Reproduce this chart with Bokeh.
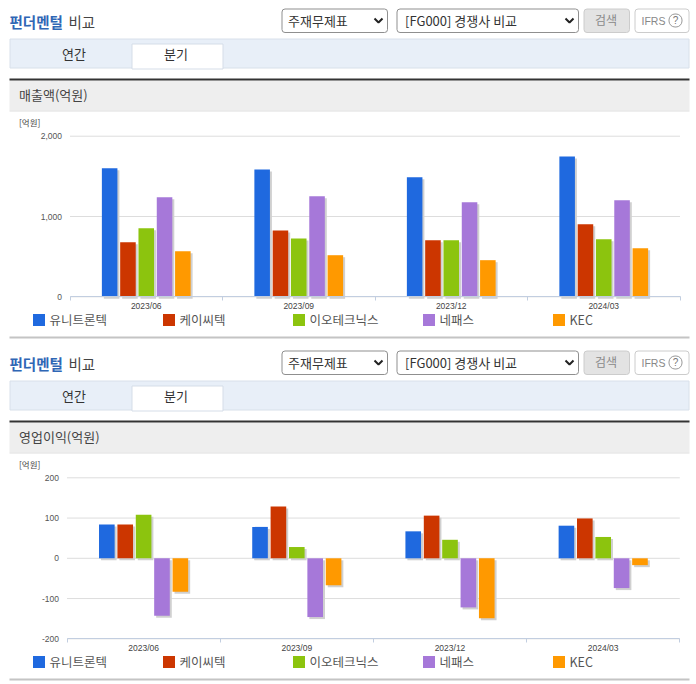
from bokeh.embed import file_html
from bokeh.resources import INLINE
from bokeh.plotting import figure
from bokeh.core.properties import value
from bokeh.models import (ColumnDataSource, Legend, LegendItem, FixedTicker, LinearAxis, Range1d, Dodge)

periods = ["2023/06", "2023/09", "2023/12", "2024/03"]
companies = ["유니트론텍", "케이씨텍", "이오테크닉스", "네패스", "KEC"]
colors = ["#1f69df", "#cc3600", "#8cc40e", "#a678d9", "#ff9900"]

revenue_unitrontech = [1600, 1585, 1490, 1747]
revenue_kctech = [680, 826, 705, 904]
revenue_eo = [854, 726, 705, 717]
revenue_nepes = [1240, 1253, 1178, 1203]
revenue_kec = [568, 518, 456, 605]

profit_unitrontech = [84, 78, 67, 81]
profit_kctech = [84, 129, 106, 99]
profit_eo = [108, 28, 46, 53]
profit_nepes = [-143, -146, -122, -74]
profit_kec = [-83, -67, -149, -17]

revenue = [revenue_unitrontech, revenue_kctech, revenue_eo, revenue_nepes, revenue_kec]
profit = [profit_unitrontech, profit_kctech, profit_eo, profit_nepes, profit_kec]

rev_ticks = [0, 1000, 2000]
rev_labels = {0: "0", 1000: "1,000", 2000: "2,000"}
pro_ticks = [-200, -100, 0, 100, 200]
pro_labels = {-200: "-200", -100: "-100", 0: "0", 100: "100", 200: "200"}

KR = "Noto Sans CJK KR"
LAT = "Liberation Sans"
W, H = 690, 681
OX, OY = 0, 0  # page-to-figure offset

p = figure(width=W, height=H, output_backend="svg", toolbar_location=None,
           x_range=Range1d(OX, OX + W), y_range=Range1d(OY + H, OY),
           min_border=0, min_border_left=0, min_border_right=0, min_border_top=0, min_border_bottom=0,
           x_axis_location=None, y_axis_location=None, outline_line_color=None,
           background_fill_color="#ffffff", border_fill_color="#ffffff")
p.xgrid.visible = False
p.ygrid.visible = False


def box(l, t, r, b, fill=None, line=None, radius=0):
    p.quad(left=[l], right=[r], top=[t], bottom=[b], fill_color=fill, fill_alpha=1 if fill else 0,
           line_color=line, line_alpha=1 if line else 0, line_width=1, border_radius=radius)


def text(x, y, s, size="12.5px", color="#333333", font=KR, align="left", style="normal"):
    p.text(x=[x], y=[y], text=[s], text_font=value(font), text_font_size=value(size), text_color=color,
           text_align=align, text_baseline="middle", text_font_style=style)


def chevron(cx, cy):
    p.line(x=[cx - 4, cx, cx + 4], y=[cy - 2, cy + 2, cy - 2], line_color="#222222", line_width=2)


def decorate(d, section):
    text(9, d + 12.5, "펀더멘털", "14.5px", "#2f66b5", style="bold")
    text(68, d + 12.5, "비교", "14.5px", "#444444")
    box(281.5, d + 0.5, 387, d + 24, "#ffffff", "#8f8f8f", 3)
    text(287.5, d + 11.5, "주재무제표", "13px")
    chevron(378, d + 12)
    box(396.5, d + 0.5, 578, d + 24, "#ffffff", "#8f8f8f", 3)
    text(404.5, d + 11.5, "[FG000] 경쟁사 비교", "13px")
    chevron(569, d + 12)
    box(583.5, d + 0.5, 629, d + 24, "#e3e3e3", "#cccccc", 3)
    text(605.5, d + 11, "검색", "12px", "#8a8a8a", align="center")
    box(634.5, d + 0.5, 688.5, d + 24, "#ffffff", "#cccccc", 3)
    text(641, d + 12, "IFRS", "10.5px", "#888888", LAT)
    box(668.5, d + 5.5, 681.5, d + 18.5, "#ffffff", "#999999", 6)
    text(675, d + 12, "?", "10px", "#777777", LAT, "center")
    box(9.5, d + 30.5, 688.5, d + 59.5, "#e8eff8", "#d8e0ea")
    box(131.5, d + 35.5, 222.5, d + 60.5, "#ffffff", "#d5dde8")
    text(73.5, d + 44.5, "연간", "13px", "#333333", align="center")
    text(175.5, d + 45, "분기", "13px", "#333333", align="center")
    box(9, d + 72, 689, d + 102, "#eeeeee")
    box(9, d + 70, 689, d + 72, "#333333")
    box(9, d + 102, 689, d + 103, "#dddddd")
    text(18.5, d + 85.5, section, "13px", "#444444")
    text(18.5, d + 113, "[억원]", "8.5px", "#444444")
    box(9, d + 328, 689, d + 330, "#c4c4c4")


def add_panel(name, series, ticks, labels, d, x0px, x1px, ytop_px, ybot_px, legend_bottom, shift_y):
    # ranges that place the panel's data on the figure's frame
    n = len(periods)
    sx = n / (x1px - x0px)
    xr = Range1d(-(x0px - OX) * sx, (OX + W - x0px) * sx)
    ymin, ymax = ticks[0], ticks[-1]
    sy = (ymax - ymin) / (ybot_px - ytop_px)
    yr = Range1d(ymin - (OY + H - ybot_px) * sy, ymax + (ytop_px - OY) * sy)
    xn, yn = "x_" + name, "y_" + name
    p.extra_x_ranges[xn] = xr
    p.extra_y_ranges[yn] = yr

    gridsrc = ColumnDataSource(dict(x0=[0] * len(ticks), x1=[n] * len(ticks), y=ticks))
    p.segment(x0="x0", x1="x1", y0="y", y1="y", source=gridsrc, line_color="#dddddd", line_width=1,
              x_range_name=xn, y_range_name=yn)

    pitch, width, sh_x = 0.12, 0.102, 0.013
    items, sources = [], []
    for i, vals in enumerate(series):
        src = ColumnDataSource(dict(x=[k + 0.5 for k in range(n)], v=vals, z=[0] * len(vals)))
        sources.append(src)
        p.vbar(x={"field": "x", "transform": Dodge(value=(i - 2) * pitch + sh_x)},
               top={"field": "v", "transform": Dodge(value=shift_y)},
               bottom={"field": "z", "transform": Dodge(value=shift_y)},
               width=width, source=src, fill_color="#d0d0d0", line_color=None,
               x_range_name=xn, y_range_name=yn)
    for i, vals in enumerate(series):
        r = p.vbar(x={"field": "x", "transform": Dodge(value=(i - 2) * pitch)}, top="v", bottom="z",
                   width=width, source=sources[i], fill_color=colors[i], line_color=None,
                   x_range_name=xn, y_range_name=yn)
        items.append(LegendItem(label=companies[i], renderers=[r]))

    xa = LinearAxis(x_range_name=xn, y_range_name=yn, fixed_location=ymin, bounds=(0, n),
                    ticker=FixedTicker(ticks=[k + 0.5 for k in range(n)], minor_ticks=list(range(n + 1))),
                    major_label_overrides={k + 0.5: s for k, s in enumerate(periods)},
                    major_tick_line_color=None, major_tick_in=0, major_tick_out=0,
                    minor_tick_in=0, minor_tick_out=4, minor_tick_line_color="#c2cee0",
                    axis_line_color="#c2cee0", major_label_text_font=LAT, major_label_text_font_size="8.5px",
                    major_label_text_color="#444444", major_label_standoff=0)
    p.add_layout(xa, "below")
    ya = LinearAxis(x_range_name=xn, y_range_name=yn, fixed_location=0,
                    ticker=FixedTicker(ticks=ticks), major_label_overrides=labels,
                    axis_line_color=None, major_tick_line_color=None, minor_tick_line_color=None,
                    major_tick_in=0, major_tick_out=0, minor_tick_in=0, minor_tick_out=0,
                    major_label_text_font=LAT, major_label_text_font_size="8.5px",
                    major_label_text_color="#555555", major_label_standoff=8)
    p.add_layout(ya, "left")

    leg = Legend(items=items, orientation="horizontal", location=(30.5 - OX, OY + H - legend_bottom),
                 glyph_width=15, glyph_height=15, label_standoff=4, spacing=0, label_width=111,
                 label_text_font=KR, label_text_font_size="12.5px", label_text_color="#555555",
                 background_fill_alpha=0, border_line_color=None, margin=0, padding=0, label_height=15)
    p.add_layout(leg, "center")


decorate(8, "매출액(억원)")
decorate(350, "영업이익(억원)")
add_panel("rev", revenue, rev_ticks, rev_labels, 8, 69.5, 679.5, 135.7, 296.3, 329, -25)
add_panel("pro", profit, pro_ticks, pro_labels, 350, 66.5, 679.3, 477.3, 638.3, 671, -5)

open("out.html", "w").write(file_html(p, INLINE))
